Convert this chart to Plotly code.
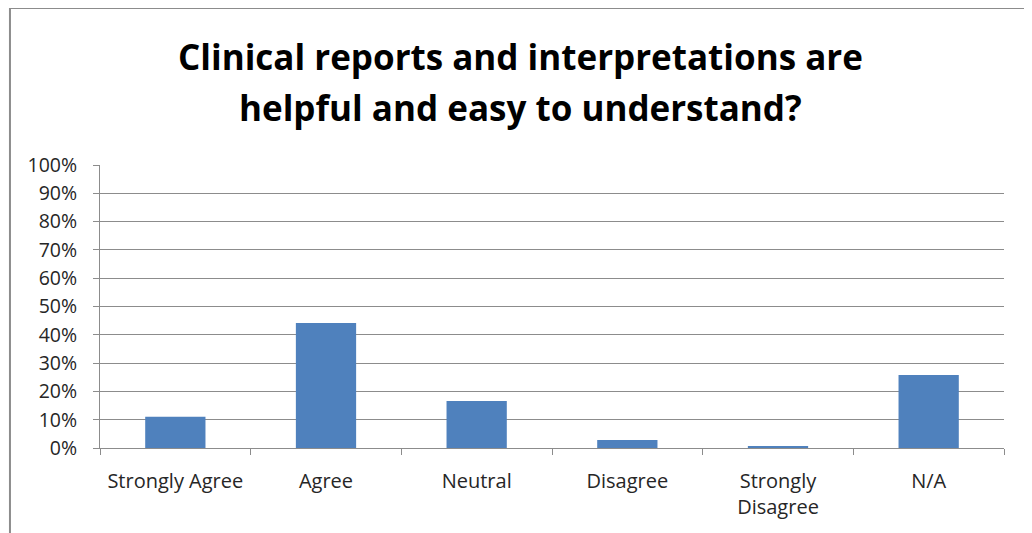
import plotly.graph_objects as go

categories = ["Strongly Agree", "Agree", "Neutral", "Disagree", "Strongly<br>Disagree", "N/A"]
values = [0.11, 0.442, 0.166, 0.028, 0.007, 0.258]
y_ticks = [i / 10 for i in range(11)]
y_tick_labels = [f"{i * 10}%" for i in range(11)]
title_lines = ["Clinical reports and interpretations are", "helpful and easy to understand?"]

FONT = "Open Sans, Calibri, Carlito, sans-serif"

fig = go.Figure(go.Bar(
    x=categories, y=values,
    marker=dict(color="#4F81BD", line=dict(color="#4F81BD", width=0)),
))

fig.update_layout(
    width=1032, height=533,
    margin=dict(l=92, r=36, t=157, b=93),
    paper_bgcolor="white", plot_bgcolor="white",
    bargap=0.6,
    showlegend=False,
    font=dict(family=FONT, size=20, color="#262626"),
)

# title lines (pixel centres 57 and 108 in the page, plot area 165..448)
for line, py in zip(title_lines, [57, 108]):
    fig.add_annotation(
        text=f"<b>{line}</b>", showarrow=False,
        xref="paper", yref="paper",
        x=(520 - 100) / 904, y=(448 - py) / 283,
        xanchor="center", yanchor="middle",
        font=dict(family=FONT, size=35, color="black"),
    )

fig.update_yaxes(
    range=[0, 1], tickvals=y_ticks, ticktext=y_tick_labels,
    showgrid=True, gridcolor="#8C8C8C", gridwidth=1,
    showline=True, linecolor="#8C8C8C", linewidth=1,
    ticks="outside", ticklen=6, tickcolor="#8C8C8C",
    ticklabelstandoff=12,
    tickfont=dict(family=FONT, size=19.5, color="#262626"),
    zeroline=False, fixedrange=True,
)
fig.update_xaxes(
    showline=True, linecolor="#8C8C8C", linewidth=1,
    ticks="outside", ticklen=6, tickcolor="#8C8C8C",
    tickson="boundaries", showgrid=False,
    ticklabelstandoff=15,
    tickfont=dict(family=FONT, size=20, color="#262626"),
)

fig.add_shape(
    type="rect", xref="paper", yref="paper",
    x0=-0.0996, x1=1.0254, y0=-0.33, y1=1.555,
    line=dict(color="#8C8C8C", width=2), fillcolor="rgba(0,0,0,0)",
    layer="below",
)

fig.write_html("out.html")
